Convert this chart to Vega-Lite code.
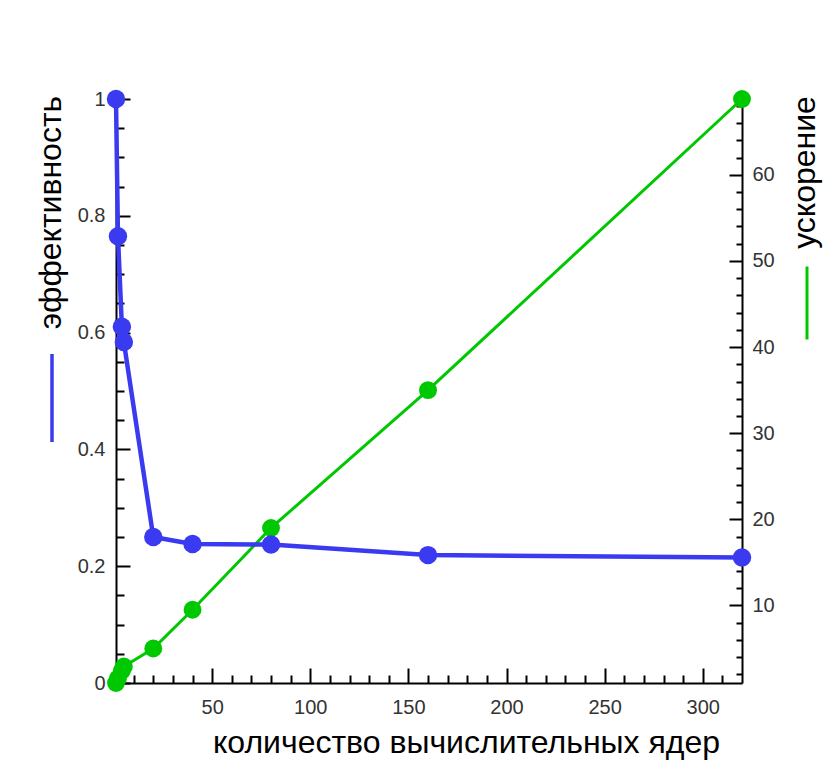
{
  "$schema": "https://vega.github.io/schema/vega-lite/v6.json",
  "width": 626,
  "height": 584,
  "autosize": "none",
  "padding": {"left": 116, "top": 99, "right": 88, "bottom": 77},
  "background": "white",
  "config": {
    "view": {"stroke": null},
    "font": "Liberation Sans",
    "axis": {
      "labelFont": "Liberation Sans",
      "titleFont": "Liberation Sans",
      "labelFontSize": 20,
      "labelColor": "#333333",
      "titleFontSize": 32,
      "titleFontWeight": "normal",
      "titleColor": "#000000",
      "domainColor": "#000000",
      "domainWidth": 2,
      "tickColor": "#000000",
      "tickWidth": 2,
      "grid": false,
      "zindex": 1,
      "labelFlush": false,
      "labelOverlap": false
    },
    "legend": {"padding": 0}
  },
  "data": {
    "values": [
      {"cores": 1, "eff": 1.0, "speedup": 1.0},
      {"cores": 2, "eff": 0.765, "speedup": 1.53},
      {"cores": 4, "eff": 0.61, "speedup": 2.44},
      {"cores": 5, "eff": 0.584, "speedup": 2.92},
      {"cores": 20, "eff": 0.25, "speedup": 5.0},
      {"cores": 40, "eff": 0.238, "speedup": 9.5},
      {"cores": 80, "eff": 0.237, "speedup": 19.0},
      {"cores": 160, "eff": 0.219, "speedup": 35.0},
      {"cores": 320, "eff": 0.215, "speedup": 68.8}
    ]
  },
  "layer": [
    {
      "mark": {"type": "line", "strokeWidth": 3, "clip": false},
      "encoding": {
        "x": {
          "field": "cores", "type": "quantitative",
          "scale": {"domain": [1, 320], "nice": false, "zero": false},
          "axis": {
            "orient": "bottom",
            "values": [50, 100, 150, 200, 250, 300],
            "tickSize": -15,
            "labelPadding": 29,
            "title": "количество вычислительных ядер",
            "titleX": 350, "titleY": 69,
            "titleAlign": "center", "titleBaseline": "alphabetic", "titleAngle": 0
          }
        },
        "y": {
          "field": "speedup", "type": "quantitative",
          "scale": {"domain": [1, 68.8], "nice": false, "zero": false},
          "axis": {
            "orient": "right",
            "values": [10, 20, 30, 40, 50, 60],
            "tickSize": -13,
            "labelPadding": 23,
            "title": "ускорение",
            "titleAngle": -90,
            "titleX": 72, "titleY": 73,
            "titleAlign": "center", "titleBaseline": "alphabetic"
          }
        },
        "color": {
          "datum": "ускорение",
          "scale": {"range": ["#00c800"]},
          "legend": {
            "orient": "none", "legendX": 653, "legendY": 166,
            "title": null, "labelExpr": "''",
            "symbolType": "M0,-1L0,1", "symbolSize": 5329,
            "symbolStrokeWidth": 3, "symbolFillColor": "transparent", "symbolStrokeColor": "#00c800"
          }
        }
      }
    },
    {
      "mark": {"type": "circle", "size": 320, "opacity": 1, "color": "#00c800", "clip": false},
      "encoding": {
        "x": {"field": "cores", "type": "quantitative", "axis": {
          "orient": "bottom",
          "values": [10, 20, 30, 40, 60, 70, 80, 90, 110, 120, 130, 140, 160, 170, 180, 190, 210, 220, 230, 240, 260, 270, 280, 290, 310],
          "tickSize": -8, "labels": false, "domain": false, "title": null
        }},
        "y": {
          "field": "speedup", "type": "quantitative",
          "scale": {"domain": [1, 68.8], "nice": false, "zero": false},
          "axis": {
            "orient": "right",
            "values": [2, 4, 6, 8, 12, 14, 16, 18, 22, 24, 26, 28, 32, 34, 36, 38, 42, 44, 46, 48, 52, 54, 56, 58, 62, 64, 66, 68],
            "tickSize": -6, "labels": false, "domain": false, "title": null
          }
        }
      }
    },
    {
      "mark": {"type": "line", "strokeWidth": 4.5, "clip": false},
      "encoding": {
        "x": {"field": "cores", "type": "quantitative", "axis": null},
        "y": {
          "field": "eff", "type": "quantitative",
          "scale": {"domain": [0, 1], "nice": false, "zero": false},
          "axis": {
            "orient": "left",
            "values": [0, 0.2, 0.4, 0.6, 0.8, 1],
            "format": ".1~f",
            "tickSize": -14,
            "labelPadding": 25,
            "title": "эффективность",
            "titleAngle": -90,
            "titleX": -56, "titleY": 113,
            "titleAlign": "center", "titleBaseline": "alphabetic"
          }
        },
        "color": {
          "datum": "эффективность",
          "scale": {"range": ["#3a3af0"]},
          "legend": {
            "orient": "none", "legendX": -110, "legendY": 253,
            "title": null, "labelExpr": "''",
            "symbolType": "M0,-1L0,1", "symbolSize": 7744,
            "symbolStrokeWidth": 3.5, "symbolFillColor": "transparent", "symbolStrokeColor": "#3a3af0"
          }
        }
      }
    },
    {
      "mark": {"type": "circle", "size": 340, "opacity": 1, "color": "#3a3af0", "clip": false},
      "encoding": {
        "x": {"field": "cores", "type": "quantitative", "axis": null},
        "y": {
          "field": "eff", "type": "quantitative",
          "scale": {"domain": [0, 1], "nice": false, "zero": false},
          "axis": {
            "orient": "left",
            "values": [0.05, 0.1, 0.15, 0.25, 0.3, 0.35, 0.45, 0.5, 0.55, 0.65, 0.7, 0.75, 0.85, 0.9, 0.95],
            "tickSize": -8, "labels": false, "domain": false, "title": null
          }
        }
      }
    }
  ],
  "resolve": {
    "scale": {"y": "independent", "color": "independent"},
    "axis": {"x": "independent", "y": "independent"},
    "legend": {"color": "independent"}
  }
}
